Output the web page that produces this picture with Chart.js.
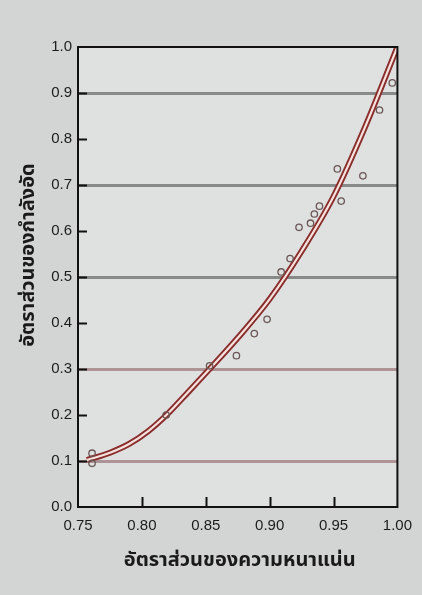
<!DOCTYPE html>
<html>
<head>
<meta charset="utf-8">
<script src="https://cdn.jsdelivr.net/npm/chart.js@4.4.1/dist/chart.umd.min.js"></script>
<style>
  html, body { margin: 0; padding: 0; background: #d2d5d4; }
  #wrap { width: 422px; height: 595px; position: relative; }
</style>
</head>
<body>
<div id="wrap"><canvas id="c" width="422" height="595"></canvas></div>
<script>
// Axis ticks
const xTicks = [0.75, 0.80, 0.85, 0.90, 0.95, 1.00];
const yTicks = [0.0, 0.1, 0.2, 0.3, 0.4, 0.5, 0.6, 0.7, 0.8, 0.9, 1.0];
// Horizontal reference lines
const gridLevels = [0.1, 0.3, 0.5, 0.7, 0.9];

// Fitted curve: density ratio -> strength ratio
const fitX = [0.757, 0.775, 0.790, 0.805, 0.820, 0.835, 0.853, 0.877, 0.900, 0.925, 0.950, 0.975, 1.000];
const fitY = [0.102, 0.118, 0.137, 0.165, 0.202, 0.246, 0.300, 0.374, 0.452, 0.556, 0.675, 0.828, 1.000];

// Measured samples
const obsX = [0.761, 0.761, 0.819, 0.853, 0.874, 0.888, 0.898, 0.909, 0.916, 0.923, 0.932, 0.935, 0.939, 0.953, 0.956, 0.973, 0.986, 0.996];
const obsY = [0.117, 0.095, 0.200, 0.307, 0.329, 0.377, 0.408, 0.511, 0.540, 0.608, 0.617, 0.637, 0.654, 0.735, 0.665, 0.720, 0.863, 0.922];

const xTitle = 'อัตราส่วนของความหนาแน่น';
const yTitle = 'อัตราส่วนของกำลังอัด';

const FONT = '"Liberation Sans", Arial, sans-serif';
const THAI = '"Noto Sans Thai", "Loma", "Garuda", "DejaVu Sans", sans-serif';

const toPts = (xs, ys) => xs.map((x, i) => ({ x: x, y: ys[i] }));

const isGridLevel = v => gridLevels.some(g => Math.abs(g - v) < 1e-6);

// Plot background, frame and inward tick marks
const framePlugin = {
  id: 'frame',
  beforeDraw(chart) {
    const { ctx, chartArea: a } = chart;
    ctx.save();
    ctx.fillStyle = '#dee1e0';
    ctx.fillRect(a.left, a.top, a.right - a.left, a.bottom - a.top);
    ctx.restore();
  },
  afterDatasetsDraw(chart) {
    const { ctx, chartArea: a, scales } = chart;
    ctx.save();
    ctx.strokeStyle = '#111';
    ctx.lineWidth = 2;
    ctx.strokeRect(a.left, a.top, a.right - a.left, a.bottom - a.top);
    ctx.beginPath();
    yTicks.forEach(v => {
      if (v <= 0 || v >= 1) return;
      const y = Math.round(scales.y.getPixelForValue(v)) + 0.5;
      ctx.moveTo(a.left, y);
      ctx.lineTo(a.left + 9, y);
    });
    xTicks.forEach(v => {
      if (v <= 0.75 || v >= 1) return;
      const x = Math.round(scales.x.getPixelForValue(v)) + 0.5;
      ctx.moveTo(x, a.bottom);
      ctx.lineTo(x, a.bottom - 10);
    });
    ctx.stroke();
    ctx.restore();
  },
  afterDraw(chart) {
    const { ctx, chartArea: a } = chart;
    ctx.save();
    ctx.fillStyle = '#1a1a1a';
    ctx.font = 'bold 20px ' + THAI;
    ctx.textAlign = 'center';
    ctx.textBaseline = 'middle';
    ctx.fillText(xTitle, (a.left + a.right) / 2 + 2, 562);
    ctx.translate(30, 255);
    ctx.rotate(-Math.PI / 2);
    ctx.fillText(yTitle, 0, 0);
    ctx.restore();
  }
};

new Chart(document.getElementById('c'), {
  type: 'scatter',
  data: {
    datasets: [
      {
        label: 'fit-outline',
        data: toPts(fitX, fitY),
        showLine: true,
        borderColor: '#8a2d2d',
        borderWidth: 6,
        pointRadius: 0,
        cubicInterpolationMode: 'monotone',
        order: 3
      },
      {
        label: 'fit-core',
        data: toPts(fitX, fitY),
        showLine: true,
        borderColor: '#f6e2dc',
        borderWidth: 2.2,
        pointRadius: 0,
        cubicInterpolationMode: 'monotone',
        order: 2
      },
      {
        label: 'samples',
        data: toPts(obsX, obsY),
        pointStyle: 'circle',
        pointRadius: 3.2,
        pointBorderWidth: 1.3,
        pointBorderColor: '#6b5656',
        pointBackgroundColor: 'rgba(0,0,0,0)',
        order: 1
      }
    ]
  },
  options: {
    responsive: false,
    animation: false,
    devicePixelRatio: 1,
    layout: { padding: { left: 0, right: 24, top: 47, bottom: 0 } },
    plugins: {
      legend: { display: false },
      tooltip: { enabled: false }
    },
    scales: {
      x: {
        type: 'linear',
        min: 0.75,
        max: 1.0,
        afterBuildTicks: s => { s.ticks = xTicks.map(v => ({ value: v })); },
        afterFit: s => { s.height = 88; },
        grid: { display: false, drawTicks: false },
        border: { display: false },
        ticks: {
          padding: 10,
          color: '#1c1c1c',
          font: { family: FONT, size: 15 },
          maxRotation: 0,
          callback: v => Number(v).toFixed(2)
        }
      },
      y: {
        type: 'linear',
        min: 0,
        max: 1.0,
        afterBuildTicks: s => { s.ticks = yTicks.map(v => ({ value: v })); },
        afterFit: s => { s.width = 78; },
        grid: {
          drawTicks: false,
          color: c => {
            const v = c.tick ? c.tick.value : null;
            if (v === null || !isGridLevel(v)) return 'rgba(0,0,0,0)';
            return v < 0.4 ? '#ad9496' : '#878a89';
          },
          lineWidth: 3
        },
        border: { display: false },
        ticks: {
          padding: 6,
          color: '#1c1c1c',
          font: { family: FONT, size: 15 },
          callback: v => Number(v).toFixed(1)
        }
      }
    }
  },
  plugins: [framePlugin]
});
</script>
</body>
</html>
